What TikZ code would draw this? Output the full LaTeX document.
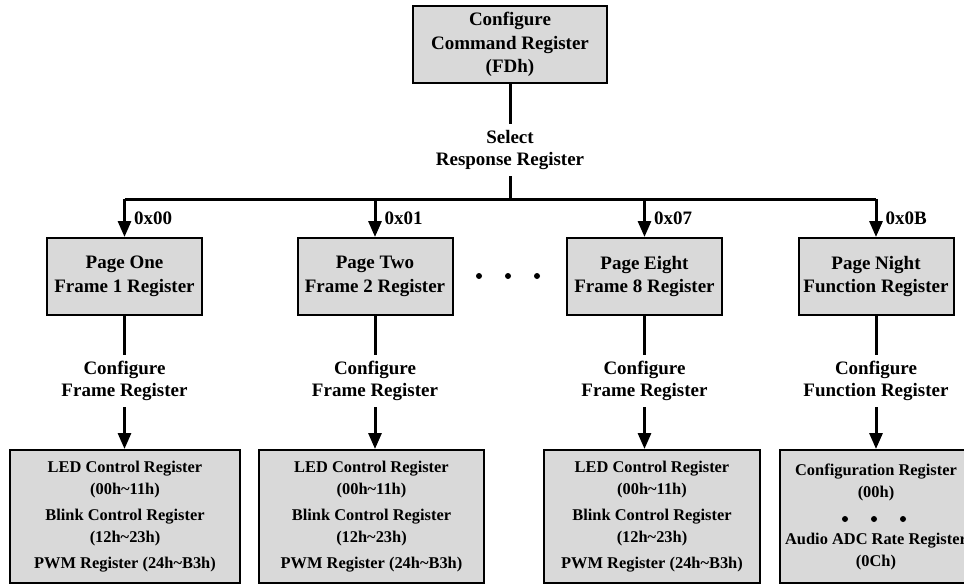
\documentclass[tikz,border=0pt]{standalone}
\usepackage{fontspec}
\setmainfont{Liberation Serif}
\usetikzlibrary{positioning,arrows.meta}

\begin{document}
\begin{tikzpicture}[x=0.5pt,y=-0.5pt,
		regbox/.style={draw,line width=1pt,fill=black!15,align=center,inner sep=0pt,font=\bfseries\fontsize{9.5}{11.75}\selectfont},
		subbox/.style={draw,line width=1pt,fill=black!15,align=center,inner sep=0pt,minimum height=66.5pt,font=\bfseries\fontsize{8.2}{11}\selectfont},
		lbl/.style={align=center,inner sep=3pt,font=\bfseries\fontsize{9.5}{11}\selectfont},
		wire/.style={line width=1.5pt},
		arr/.style={line width=1.5pt,-{Triangle[length=8pt,width=6.5pt]}},
		dotnode/.style={circle,fill=black,inner sep=0pt,minimum size=3pt}]
		\useasboundingbox (0,0) rectangle (964,585);

		\node[regbox,minimum width=97pt,minimum height=38.5pt]	(cmd)	at (510,44.5)	{Configure\\Command Register\\(FDh)};
		\node[lbl]												(sel)	at (510,150)	{Select\\Response Register};

		\node[regbox,minimum width=77.5pt,minimum height=38.5pt]	(p1)	at (124.5,276.5)	{Page One\\Frame 1 Register};
		\node[regbox,minimum width=77.5pt,minimum height=38.5pt]	(p2)	at (375,276.5)		{Page Two\\Frame 2 Register};
		\node[regbox,minimum width=77.5pt,minimum height=38.5pt]	(p3)	at (644.5,276.5)	{Page Eight\\Frame 8 Register};
		\node[regbox,minimum width=77.5pt,minimum height=38.5pt]	(p4)	at (876,276.5)		{Page Night\\Function Register};

		\node[lbl]	(c1)	at (124.5,381)	{Configure\\Frame Register};
		\node[lbl]	(c2)	at (375,381)	{Configure\\Frame Register};
		\node[lbl]	(c3)	at (644.5,381)	{Configure\\Frame Register};
		\node[lbl]	(c4)	at (876,381)	{Configure\\Function Register};

		\node[subbox,minimum width=115pt]	(b1)	at (125,516.5)		{LED Control Register\\(00h\textasciitilde11h)\\[2pt]Blink Control Register\\(12h\textasciitilde23h)\\[2pt]PWM Register (24h\textasciitilde B3h)};
		\node[subbox,minimum width=112.5pt]	(b2)	at (371.5,516.5)	{LED Control Register\\(00h\textasciitilde11h)\\[2pt]Blink Control Register\\(12h\textasciitilde23h)\\[2pt]PWM Register (24h\textasciitilde B3h)};
		\node[subbox,minimum width=108pt]	(b3)	at (652,516.5)		{LED Control Register\\(00h\textasciitilde11h)\\[2pt]Blink Control Register\\(12h\textasciitilde23h)\\[2pt]PWM Register (24h\textasciitilde B3h)};
		\node[subbox,minimum width=96pt]	(b4)	at (876,516.5)		{Configuration Register\\(00h)\\[12.5pt]Audio ADC Rate Register\\(0Ch)};

		\foreach \x [count=\i] in {479,508,537}
			\node[dotnode]	(m\i)	at (\x,276)	{};
		\foreach \x [count=\i] in {845,874,903}
			\node[dotnode]	(n\i)	at (\x,519)	{};

		\coordinate	(busL)	at (124.5,199);
		\coordinate	(busR)	at (876,199);

		\draw[wire] (cmd) -- (sel);
		\draw[wire] (sel) -- (sel |- busL);
		\draw[wire] (busL) -- (busR);
		\draw[arr] (busL) -- node[lbl,right=1pt] {0x00} (p1);
		\draw[arr] (p2 |- busL) -- node[lbl,right=1pt] {0x01} (p2);
		\draw[arr] (p3 |- busL) -- node[lbl,right=1pt] {0x07} (p3);
		\draw[arr] (busR) -- node[lbl,right=1pt] {0x0B} (p4);

		\draw[wire] (p1) -- (c1);
		\draw[wire] (p2) -- (c2);
		\draw[wire] (p3) -- (c3);
		\draw[wire] (p4) -- (c4);

		\draw[arr] (c1) -- (c1 |- b1.north);
		\draw[arr] (c2) -- (c2 |- b2.north);
		\draw[arr] (c3) -- (c3 |- b3.north);
		\draw[arr] (c4) -- (c4 |- b4.north);
	\end{tikzpicture}
\end{document}
